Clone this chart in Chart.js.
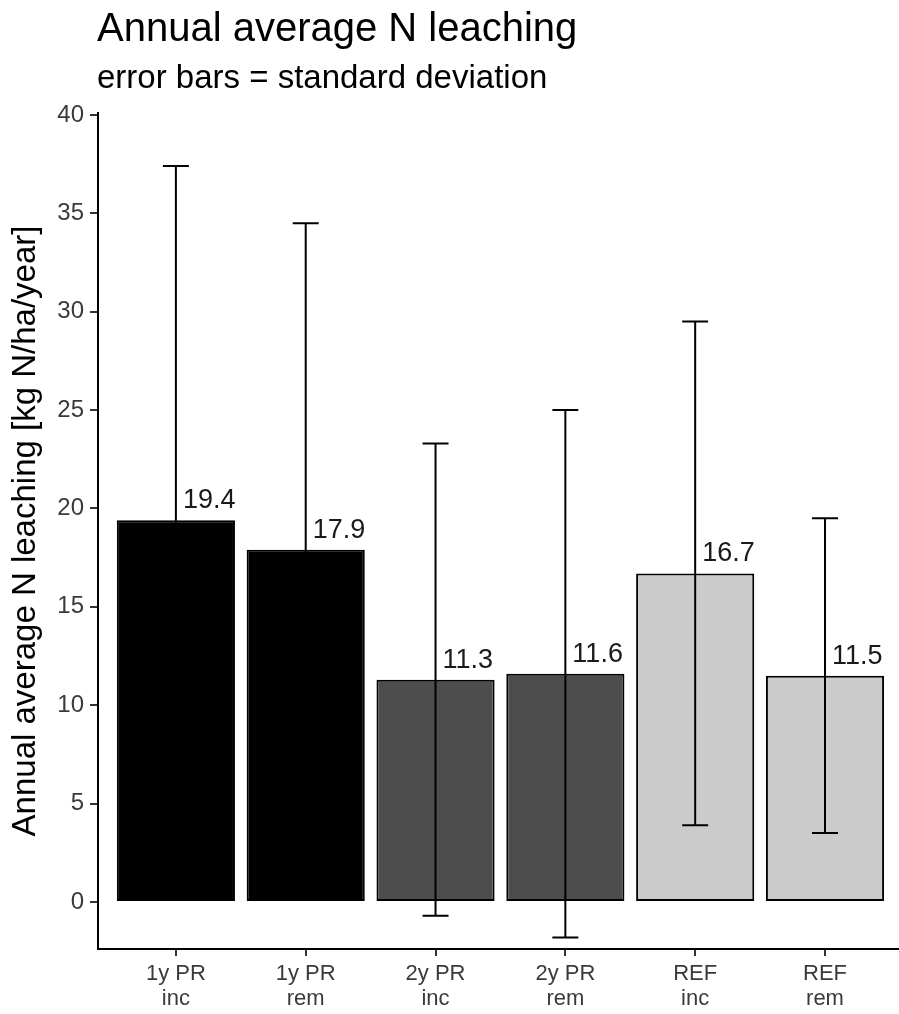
<!DOCTYPE html>
<html>
<head>
<meta charset="utf-8">
<script src="https://cdn.jsdelivr.net/npm/chart.js@4.4.1/dist/chart.umd.min.js"></script>
<style>
  html, body { margin: 0; padding: 0; background: #fff; }
  #wrap { position: relative; width: 899px; height: 1014px; }
</style>
</head>
<body>
<div id="wrap"><canvas id="c" width="899" height="1014"></canvas></div>
<script>
// ---- data ----
const titleText = 'Annual average N leaching';
const subtitleText = 'error bars = standard deviation';
const yAxisTitle = 'Annual average N leaching [kg N/ha/year]';
const categories = [['1y PR', 'inc'], ['1y PR', 'rem'], ['2y PR', 'inc'], ['2y PR', 'rem'], ['REF', 'inc'], ['REF', 'rem']];
const means = [19.4, 17.9, 11.3, 11.6, 16.7, 11.5];
const sds = [18.0, 16.6, 12.0, 13.4, 12.8, 8.0];
const valueLabels = ['19.4', '17.9', '11.3', '11.6', '16.7', '11.5'];
const yTicks = [0, 5, 10, 15, 20, 25, 30, 35, 40];

// ---- styles ----
const fills = ['#000000', '#000000', '#4d4d4d', '#4d4d4d', '#cccccc', '#cccccc'];
const FONT = "'Liberation Sans', Arial, Helvetica, sans-serif";
Chart.defaults.font.family = FONT;

const errorBarPlugin = {
  id: 'errorBars',
  afterDatasetsDraw(chart) {
    const ctx = chart.ctx, xs = chart.scales.x, ys = chart.scales.y;
    const half = (xs.getPixelForValue(0.1) - xs.getPixelForValue(0));
    ctx.save();
    ctx.strokeStyle = '#000';
    ctx.lineWidth = 2;
    means.forEach((m, i) => {
      const x = xs.getPixelForValue(i);
      const yt = ys.getPixelForValue(m + sds[i]);
      const yb = ys.getPixelForValue(m - sds[i]);
      ctx.beginPath();
      ctx.moveTo(x, yt); ctx.lineTo(x, yb);
      ctx.moveTo(x - half, yt); ctx.lineTo(x + half, yt);
      ctx.moveTo(x - half, yb); ctx.lineTo(x + half, yb);
      ctx.stroke();
    });
    // value labels
    ctx.fillStyle = '#1a1a1a';
    ctx.font = '27px ' + FONT;
    ctx.textAlign = 'left';
    ctx.textBaseline = 'alphabetic';
    means.forEach((m, i) => {
      const x = xs.getPixelForValue(i);
      const y = ys.getPixelForValue(m);
      ctx.fillText(valueLabels[i], x + 7, y - 12);
    });
    ctx.restore();
  },
  afterDraw(chart) {
    const ctx = chart.ctx;
    ctx.save();
    ctx.fillStyle = '#000';
    ctx.textAlign = 'left';
    ctx.textBaseline = 'alphabetic';
    ctx.font = '40px ' + FONT;
    ctx.fillText(titleText, 97, 41);
    ctx.font = '33px ' + FONT;
    ctx.fillText(subtitleText, 97, 88);
    ctx.restore();
  }
};

new Chart(document.getElementById('c'), {
  type: 'bar',
  data: {
    datasets: [{
      data: means.map((m, i) => ({ x: i, y: m })),
      backgroundColor: fills,
      borderColor: '#000',
      borderWidth: 2,
      borderSkipped: false,
      barPercentage: 0.91,
      categoryPercentage: 1.0
    }]
  },
  options: {
    responsive: false,
    animation: false,
    devicePixelRatio: 1,
    layout: { padding: { top: 113, right: 0, bottom: 0, left: 0 } },
    plugins: { legend: { display: false }, tooltip: { enabled: false }, title: { display: false } },
    scales: {
      x: {
        type: 'linear',
        offset: false,
        min: -0.6,
        max: 5.57,
        afterBuildTicks(scale) { scale.ticks = categories.map((c, i) => ({ value: i })); },
        afterFit(scale) { scale.height = 65; },
        grid: { offset: false, drawOnChartArea: false, drawTicks: true, tickLength: 7, color: '#333', lineWidth: 2 },
        border: { display: true, color: '#000', width: 2 },
        ticks: {
          autoSkip: false,
          maxRotation: 0,
          padding: 5,
          color: '#3a3a3a',
          font: { size: 22, lineHeight: 1.15 },
          callback: (v) => categories[v]
        }
      },
      y: {
        min: -2.39,
        max: 40.1,
        afterBuildTicks(scale) { scale.ticks = yTicks.map(v => ({ value: v })); },
        afterFit(scale) { scale.width = 98; },
        grid: { drawOnChartArea: false, drawTicks: true, tickLength: 8, color: '#333', lineWidth: 2 },
        border: { display: true, color: '#000', width: 2 },
        ticks: {
          padding: 6,
          color: '#3a3a3a',
          font: { size: 24 },
          callback: (v) => String(v)
        },
        title: {
          display: true,
          text: yAxisTitle,
          color: '#000',
          font: { size: 33 },
          padding: { top: 6, bottom: 0 }
        }
      }
    }
  },
  plugins: [errorBarPlugin]
});
</script>
</body>
</html>
